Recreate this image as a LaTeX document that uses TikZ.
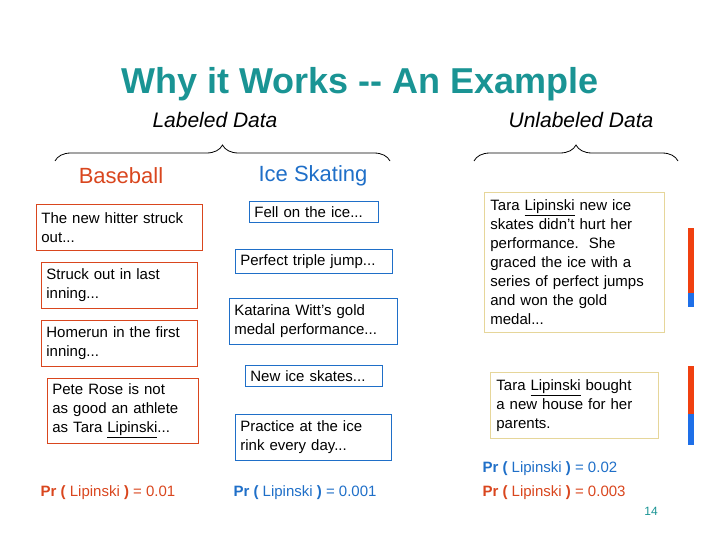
\documentclass[tikz,border=0pt]{standalone}
\usepackage{fontspec}
\setmainfont{Liberation Sans}
\usetikzlibrary{decorations.pathreplacing}
\definecolor{teal1}{HTML}{1A9494}
\definecolor{org}{HTML}{D9461E}
\definecolor{blu}{HTML}{1F6FC8}
\definecolor{ylw}{HTML}{E6D69A}
\definecolor{barR}{HTML}{F04010}
\definecolor{barB}{HTML}{1E6FE8}
\tikzset{
 obox/.style={draw=org,line width=0.8pt,anchor=north west,align=left,font=\fontsize{15}{19}\selectfont,inner sep=5pt},
 bbox/.style={draw=blu,line width=0.8pt,anchor=north west,align=left,font=\fontsize{15}{19}\selectfont,inner sep=5pt},
 ybox/.style={draw=ylw,line width=0.8pt,anchor=north west,align=left,font=\fontsize{15}{19}\selectfont,inner sep=6pt},
 brc/.style={decorate,decoration={brace,amplitude=16pt},line width=0.8pt},
 prl/.style={font=\fontsize{15}{17}\selectfont}
}
\newcommand{\prt}[1]{\textcolor{#1}{\textbf{Pr (}~Lipinski~\textbf{)} = }}
\begin{document}
\begin{tikzpicture}[x=1pt,y=-1pt]
\useasboundingbox (0,0) rectangle (720,540);
\node[text=teal1,font=\fontsize{36}{40}\selectfont\bfseries] (title) at (360,84) {Why it Works -{}- An Example};
\node[font=\fontsize{21}{24}\selectfont\itshape] (lab) at (215,120) {Labeled Data};
\node[font=\fontsize{21}{24}\selectfont\itshape] (unl) at (581,120) {Unlabeled Data};
\coordinate (b1a) at (55,161); \coordinate (b1b) at (390,161);
\coordinate (b2a) at (474,161); \coordinate (b2b) at (678,161);
\draw[brc] (b1a) -- (b1b);
\draw[brc] (b2a) -- (b2b);
\node[text=org,font=\fontsize{22}{24}\selectfont] (bb) at (121,176) {Baseball};
\node[text=blu,font=\fontsize{22}{24}\selectfont] (ic) at (313,176) {Ice Skating};
\node[obox,text width=156pt,minimum height=46pt] (o1) at (36,204) {The new hitter struck\\out...};
\node[obox,text width=146pt,minimum height=46pt] (o2) at (41,262) {Struck out in last\\inning...};
\node[obox,text width=146pt,minimum height=46pt] (o3) at (41,320) {Homerun in the first\\inning...};
\node[obox,text width=141pt,minimum height=65pt] (o4) at (47,378) {Pete Rose is not\\as good an athlete\\as Tara \underline{Lipinski}...};
\node[bbox,text width=119pt] (c1) at (249,201) {Fell on the ice...};
\node[bbox,text width=147pt] (c2) at (235,249) {Perfect triple jump...};
\node[bbox,text width=158pt,minimum height=46pt] (c3) at (229,298) {Katarina Witt's gold\\medal performance...};
\node[bbox,text width=127pt] (c4) at (245,365) {New ice skates...};
\node[bbox,text width=146pt,minimum height=46pt] (c5) at (235,414) {Practice at the ice\\rink every day...};
\node[ybox,text width=168pt,minimum height=140pt] (u1) at (484,192) {Tara \underline{Lipinski} new ice\\skates didn't hurt her\\performance.\ \ She\\graced the ice with a\\series of perfect jumps\\and won the gold\\medal...};
\node[ybox,text width=156pt,minimum height=66pt] (u2) at (490,372) {Tara \underline{Lipinski} bought\\a new house for her\\parents.};
\fill[barR] (688,228) rectangle (694,293);
\fill[barB] (688,293) rectangle (694,307);
\fill[barR] (688,366) rectangle (694,414);
\fill[barB] (688,414) rectangle (694,445);
\node[prl,text=org] (p1) at (108,493) {\prt{org}0.01};
\node[prl,text=blu] (p2) at (305,493) {\prt{blu}0.001};
\node[prl,text=blu,anchor=west] (p3) at (479,469) {\prt{blu}0.02};
\node[prl,text=org,anchor=west] (p4) at (479,493) {\prt{org}0.003};
\node[text=teal1,font=\fontsize{12}{14}\selectfont] (pg) at (651,511) {14};
\end{tikzpicture}
\end{document}
